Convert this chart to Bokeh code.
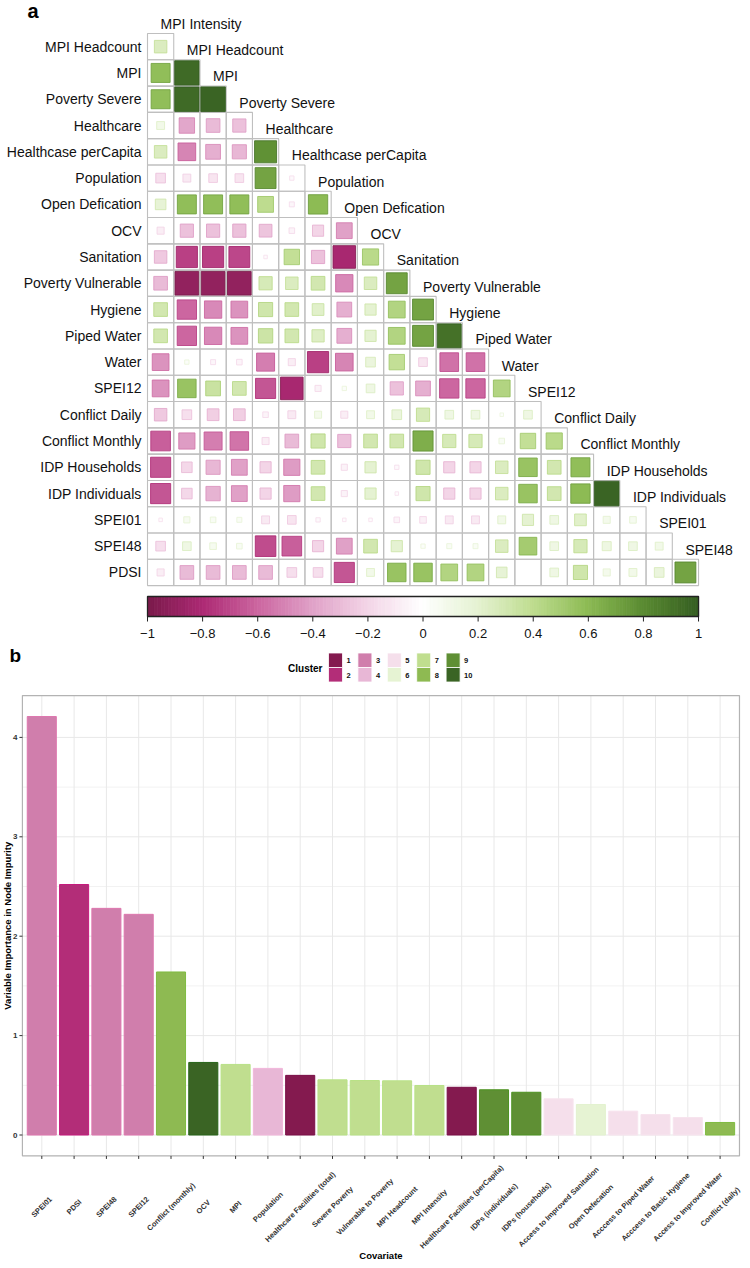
import numpy as np
from bokeh.plotting import figure
from bokeh.layouts import column
from bokeh.models import Range1d, LinearColorMapper, ColumnDataSource
from bokeh.core.properties import value
from bokeh.embed import file_html
from bokeh.resources import INLINE

# ---------------- data: panel a (correlation matrix, lower triangle) ----------------
variables = ["MPI Intensity", "MPI Headcount", "MPI", "Poverty Severe", "Healthcare",
             "Healthcase perCapita", "Population", "Open Defication", "OCV", "Sanitation",
             "Poverty Vulnerable", "Hygiene", "Piped Water", "Water", "SPEI12",
             "Conflict Daily", "Conflict Monthly", "IDP Households", "IDP Individuals",
             "SPEI01", "SPEI48", "PDSI"]

corr_mpi_headcount = [0.25]
corr_mpi = [0.58, 0.95]
corr_poverty_severe = [0.58, 0.95, 0.97]
corr_healthcare = [0.10, -0.38, -0.30, -0.28]
corr_healthcare_pc = [0.25, -0.50, -0.35, -0.32, 0.78]
corr_population = [-0.15, -0.10, -0.12, -0.12, 0.70, -0.03]
corr_open_def = [0.18, 0.58, 0.58, 0.58, 0.40, -0.04, 0.60]
corr_ocv = [-0.08, -0.28, -0.28, -0.28, -0.26, -0.05, -0.20, -0.40]
corr_sanitation = [-0.25, -0.72, -0.72, -0.70, -0.02, 0.38, -0.28, -0.82, 0.42]
corr_pov_vuln = [-0.30, -0.90, -0.90, -0.90, 0.28, 0.25, 0.30, -0.48, 0.25, 0.70]
corr_hygiene = [0.30, -0.60, -0.48, -0.45, 0.32, 0.30, 0.22, -0.35, 0.20, 0.45, 0.70]
corr_piped = [0.30, -0.60, -0.48, -0.45, 0.33, 0.30, 0.24, -0.35, 0.20, 0.45, 0.70, 0.92]
corr_water = [-0.45, 0.03, -0.04, -0.05, -0.52, -0.08, -0.72, -0.50, 0.15, 0.38, -0.12,
              -0.56, -0.56]
corr_spei12 = [-0.45, 0.55, 0.35, 0.30, -0.65, -0.82, -0.06, 0.03, 0.12, -0.28, -0.35,
               -0.60, -0.60, 0.45]
corr_conf_daily = [-0.25, -0.15, -0.22, -0.22, -0.05, -0.10, 0.08, -0.08, 0.10, 0.15, 0.28,
                   0.12, 0.12, 0.02, 0.12]
corr_conf_monthly = [-0.62, -0.42, -0.52, -0.55, -0.08, -0.30, 0.32, -0.28, 0.30, 0.30, 0.65,
                     0.28, 0.28, 0.05, 0.38, 0.42]
corr_idp_hh = [-0.65, -0.18, -0.32, -0.40, -0.20, -0.42, 0.30, -0.06, 0.20, -0.03, 0.32,
               -0.20, -0.20, 0.25, 0.55, 0.30, 0.58]
corr_idp_ind = [-0.65, -0.18, -0.33, -0.40, -0.20, -0.42, 0.30, -0.06, 0.20, -0.02, 0.32,
                -0.20, -0.20, 0.25, 0.55, 0.30, 0.60, 0.97]
corr_spei01 = [-0.02, 0.06, 0.05, 0.04, -0.10, -0.12, -0.03, -0.02, -0.02, -0.05, -0.07,
               -0.10, -0.10, 0.10, 0.20, 0.12, 0.22, 0.08, 0.07]
corr_spei48 = [-0.15, 0.12, 0.07, 0.05, -0.68, -0.62, -0.20, -0.40, 0.30, 0.20, 0.03, 0.04,
               0.04, 0.25, 0.50, 0.12, 0.28, 0.13, 0.12, 0.10]
corr_pdsi = [-0.08, -0.30, -0.30, -0.30, -0.30, -0.15, -0.15, -0.65, 0.10, 0.55, 0.55, 0.45,
             0.45, 0.18, 0.00, 0.12, 0.32, 0.08, 0.10, 0.15, 0.70]

corr_rows = [corr_mpi_headcount, corr_mpi, corr_poverty_severe, corr_healthcare,
             corr_healthcare_pc, corr_population, corr_open_def, corr_ocv, corr_sanitation,
             corr_pov_vuln, corr_hygiene, corr_piped, corr_water, corr_spei12,
             corr_conf_daily, corr_conf_monthly, corr_idp_hh, corr_idp_ind, corr_spei01,
             corr_spei48, corr_pdsi]

colorbar_ticks = [-1.0, -0.8, -0.6, -0.4, -0.2, 0.0, 0.2, 0.4, 0.6, 0.8, 1.0]
colorbar_labels = ["\u22121", "\u22120.8", "\u22120.6", "\u22120.4", "\u22120.2", "0",
                   "0.2", "0.4", "0.6", "0.8", "1"]

# ---------------- data: panel b (variable importance) ----------------
covariates = ["SPEI01", "PDSI", "SPEI48", "SPEI12", "Conflict (monthly)", "OCV", "MPI",
              "Population", "Healthcare Facilities (total)", "Severe Poverty",
              "Vulnerable to Poverty", "MPI Headcount", "MPI Intensity",
              "Healthcare Facilities (perCapita)", "IDPs (individuals)", "IDPs (households)",
              "Access to Improved Sanitation", "Open Defecation", "Acccess to Piped Water",
              "Acccess to Basic Hygiene", "Access to Improved Water", "Conflict (daily)"]
importance = [4.21, 2.52, 2.28, 2.22, 1.64, 0.73, 0.71, 0.67, 0.60, 0.555, 0.548, 0.545,
              0.498, 0.48, 0.455, 0.43, 0.364, 0.307, 0.24, 0.206, 0.176, 0.126]
cluster = [3, 2, 3, 3, 8, 10, 7, 4, 1, 7, 7, 7, 7, 1, 9, 9, 5, 6, 5, 5, 5, 8]
cluster_ids = [1, 2, 3, 4, 5, 6, 7, 8, 9, 10]
y_ticks = [0, 1, 2, 3, 4]
y_tick_labels = ["0", "1", "2", "3", "4"]
y_minor_ticks = [0.5, 1.5, 2.5, 3.5]

# ---------------- styles ----------------
cluster_fill = ["#841a4f", "#b32d78", "#d07eac", "#e8b7d6", "#f5dfeb",
                "#e6f3d3", "#c0de8f", "#8eba52", "#5f8f34", "#3a6424"]
cluster_line = ["#7a0f47", "#c51b7d", "#de77ae", "#f1b6da", "#f7e4ee",
                "#e3f2cf", "#b8e186", "#7fbc41", "#4d9221", "#276419"]
anchors = [(-1.0, "#7a1a4b"), (-0.8, "#ad2a74"), (-0.6, "#cc66a0"), (-0.4, "#e0a2c8"),
           (-0.2, "#f3d5e7"), (0.0, "#ffffff"), (0.2, "#e5f2d2"), (0.4, "#bfdd90"),
           (0.6, "#8dbb54"), (0.8, "#5b8c32"), (1.0, "#365f22")]
FONT = "Liberation Sans"
F = value(FONT)


def hex2rgb(h):
    return np.array([int(h[i:i + 2], 16) for i in (1, 3, 5)], dtype=float)


def ramp(v):
    v = float(np.clip(v, -1, 1))
    for (a, ca), (b, cb) in zip(anchors[:-1], anchors[1:]):
        if a <= v <= b:
            t = (v - a) / (b - a)
            c = hex2rgb(ca) * (1 - t) + hex2rgb(cb) * t
            return "#%02x%02x%02x" % tuple(int(round(x)) for x in c)
    return anchors[-1][1]


palette = [ramp(v) for v in np.linspace(-1, 1, 256)]
mapper = LinearColorMapper(palette=palette, low=-1, high=1)

# ---------------- layout constants (page pixels) ----------------
W = 742
HA = 690
HB = 570

# ====================== panel a ======================
PX_X, PX_Y = 26.24, 26.29
GX0, GY0 = 147.0, 19.86


def X(px):
    return (px - GX0) / PX_X


def Y(py):
    return (py - GY0) / PX_Y


pa = figure(width=W, height=HA, x_range=Range1d(X(0), X(W)),
            y_range=Range1d(Y(HA), Y(0)), output_backend="svg",
            toolbar_location=None, min_border=0, x_axis_location=None,
            y_axis_location=None)
pa.outline_line_color = None
pa.grid.visible = False

cx, cy, cr = [], [], []
for i, row in enumerate(corr_rows):
    for c, val in enumerate(row):
        cx.append(c + 0.5)
        cy.append(i + 1)
        cr.append(val)
cr = np.array(cr)
side = np.sqrt(np.abs(cr)) * 0.95
line_cols = [ramp(np.sign(v) * min(1.0, abs(v) + 0.12)) for v in cr]
src = ColumnDataSource(dict(x=cx, y=cy, r=cr, s=side, lc=line_cols))

pa.rect(x="x", y="y", width=1, height=1, source=src, fill_color=None,
        line_color="#bfbfbf", line_width=1.1)
pa.rect(x="x", y="y", width="s", height="s", source=src,
        fill_color={"field": "r", "transform": mapper}, line_color="lc", line_width=0.9)

# row labels (left)
pa.text(x=[X(141)] * (len(variables) - 1), y=list(range(1, len(variables))),
        text=variables[1:], text_align="right", text_baseline="middle",
        text_font=F, text_font_size="14px", text_color="#111111")
# diagonal column labels
pa.text(x=[c + 0.5 for c in range(len(variables) - 1)],
        y=[c + 0.13 for c in range(len(variables) - 1)],
        text=variables[:-1], text_align="left", text_baseline="middle",
        text_font=F, text_font_size="14px", text_color="#111111")

# colour bar
n_seg = 160
ncols = len(variables) - 1
edges = np.linspace(0, ncols, n_seg + 1)
mids = (edges[:-1] + edges[1:]) / 2
vals = -1 + 2 * mids / ncols
cb_src = ColumnDataSource(dict(l=edges[:-1], rr=edges[1:], v=vals))
pa.quad(left="l", right="rr", top=Y(596), bottom=Y(616), source=cb_src,
        fill_color={"field": "v", "transform": mapper},
        line_color={"field": "v", "transform": mapper}, line_width=0.8)
pa.quad(left=[0], right=[ncols], top=[Y(596)], bottom=[Y(616)],
        fill_color=None, line_color="#222222", line_width=1.3)
tick_x = [(t + 1) / 2 * ncols for t in colorbar_ticks]
pa.segment(x0=tick_x, y0=[Y(616)] * len(tick_x), x1=tick_x, y1=[Y(621)] * len(tick_x),
           line_color="#222222", line_width=1)
pa.text(x=tick_x, y=[Y(633)] * len(tick_x), text=colorbar_labels, text_align="center",
        text_baseline="middle", text_font=F, text_font_size="13px",
        text_color="#111111")

# panel letters
pa.text(x=[X(27)], y=[Y(10)], text=["a"], text_font=F, text_font_size="20px",
        text_font_style="bold", text_baseline="middle", text_color="#000000")
pa.text(x=[X(9)], y=[Y(655)], text=["b"], text_font=F, text_font_size="19px",
        text_font_style="bold", text_baseline="middle", text_color="#000000")

# cluster legend (belongs to panel b)
pa.text(x=[X(322)], y=[Y(667.5)], text=["Cluster"], text_align="right",
        text_baseline="middle", text_font=F, text_font_size="10px",
        text_font_style="bold", text_color="#000000")
kl, kr, kt, kb, kf, lx, ly, lt = [], [], [], [], [], [], [], []
for k, cid in enumerate(cluster_ids):
    col = k // 2
    rw = k % 2
    left = 328 + 29.4 * col
    top = 652.5 + 14.5 * rw
    kl.append(X(left))
    kr.append(X(left + 14))
    kt.append(Y(top))
    kb.append(Y(top + 14.5))
    kf.append(cluster_fill[cid - 1])
    lx.append(X(left + 18))
    ly.append(Y(top + 7.5))
    lt.append(str(cid))
pa.quad(left=kl, right=kr, top=kt, bottom=kb, fill_color=kf, line_color="white",
        line_width=0.8)
pa.text(x=lx, y=ly, text=lt, text_align="left", text_baseline="middle",
        text_font=F, text_font_size="7.5px", text_font_style="bold",
        text_color="#111111")

# ====================== panel b ======================
BX0, BPX = 41.3, 32.3          # first bar centre, pixels per category
BY0, BPY = 1134.5, 99.4        # y=0 position, pixels per unit
n = len(covariates)
pad_x = 0.6
ymax = max(importance)
y_lo, y_hi = -0.05 * ymax, 1.05 * ymax
xl, xr = -pad_x, n - 1 + pad_x

pb = figure(width=W, height=HB,
            x_range=Range1d((0 - BX0) / BPX, (W - BX0) / BPX),
            y_range=Range1d((BY0 - (HA + HB)) / BPY, (BY0 - HA) / BPY),
            output_backend="svg", toolbar_location=None, min_border=0,
            x_axis_location=None, y_axis_location=None)
pb.outline_line_color = None
pb.grid.visible = False

idx = list(range(n))
pb.segment(x0=[xl] * len(y_minor_ticks), x1=[xr] * len(y_minor_ticks), y0=y_minor_ticks,
           y1=y_minor_ticks, line_color="#f2f2f2", line_width=1)
pb.segment(x0=[xl] * len(y_ticks), x1=[xr] * len(y_ticks), y0=y_ticks, y1=y_ticks,
           line_color="#e8e8e8", line_width=1)
pb.segment(x0=idx, x1=idx, y0=[y_lo] * n, y1=[y_hi] * n, line_color="#e8e8e8",
           line_width=1)

bsrc = ColumnDataSource(dict(i=idx, cov=covariates, imp=importance,
                             fill=[cluster_fill[c - 1] for c in cluster],
                             line=[cluster_line[c - 1] for c in cluster]))
pb.vbar(x="i", top="imp", bottom=0, width=0.9, source=bsrc, fill_color="fill",
        line_color="line", line_width=1)

pb.quad(left=[xl], right=[xr], bottom=[y_lo], top=[y_hi], fill_color=None,
        line_color="#b3b3b3", line_width=1.2)

tick_dx = 3 / BPX
pb.segment(x0=[xl] * len(y_ticks), x1=[xl - tick_dx] * len(y_ticks), y0=y_ticks,
           y1=y_ticks, line_color="#333333", line_width=1)
pb.text(x=[xl - 5 / BPX] * len(y_ticks), y=y_ticks, text=y_tick_labels,
        text_align="right", text_baseline="middle", text_font=F, text_font_size="8px",
        text_font_style="bold", text_color="#333333")
pb.text(x=[(7 - BX0) / BPX], y=[(y_lo + y_hi) / 2],
        text=["Variable Importance in Node Impurity"], angle=np.pi / 2,
        text_align="center", text_baseline="middle", text_font=F,
        text_font_size="9.5px", text_font_style="bold", text_color="#000000")

tick_dy = 3 / BPY
pb.segment(x0=idx, x1=idx, y0=[y_lo] * n, y1=[y_lo - tick_dy] * n,
           line_color="#333333", line_width=1)
pb.text(x=idx, y=[y_lo - 51 / BPY] * n, text=covariates, angle=np.pi / 4,
        text_align="center", text_baseline="middle", text_font=F,
        text_font_size="7.5px", text_font_style="bold", text_color="#333333")
pb.text(x=[(n - 1) / 2], y=[(BY0 - 1255) / BPY], text=["Covariate"],
        text_align="center", text_baseline="middle", text_font=F,
        text_font_size="9.5px", text_font_style="bold", text_color="#000000")

layout = column(pa, pb)
open("out.html", "w").write(file_html(layout, INLINE))
